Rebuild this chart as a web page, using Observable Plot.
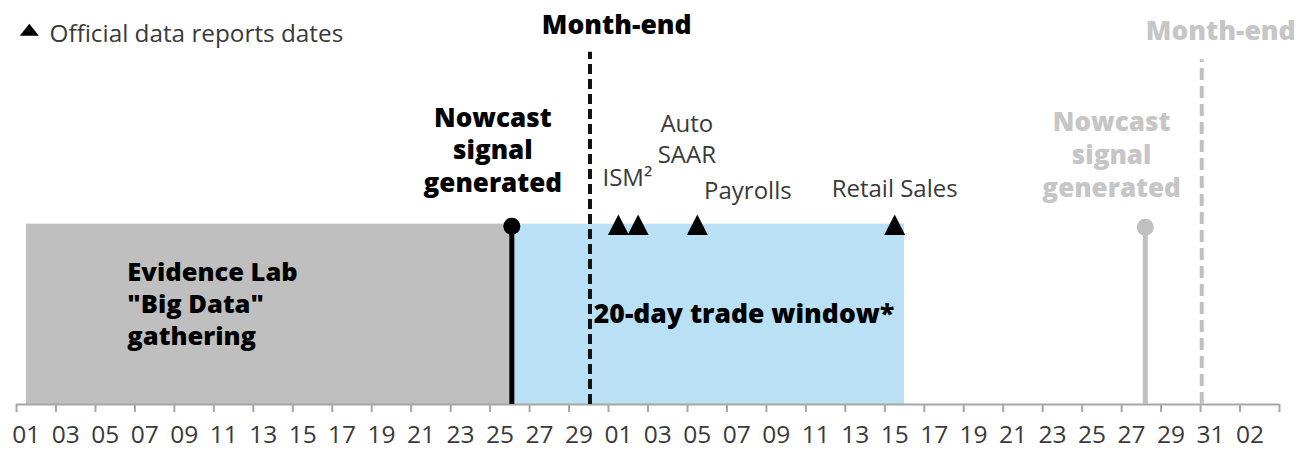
<!DOCTYPE html>
<html>
<head>
<meta charset="utf-8">
<script src="https://cdn.jsdelivr.net/npm/d3@7"></script>
<script src="https://cdn.jsdelivr.net/npm/@observablehq/plot@0.6"></script>
<style>
  html, body { margin: 0; padding: 0; background: #fff; }
</style>
</head>
<body>
<div id="chart"></div>
<script>
// ---- data ----
const tickLabels = ["01","03","05","07","09","11","13","15","17","19","21","23","25","27","29",
                    "01","03","05","07","09","11","13","15","17","19","21","23","25","27","29","31","02"];
const labelDays = tickLabels.map((_, i) => 1 + 2 * i);          // day index of each label
const tickBounds = [...labelDays.map(d => d - 0.5), 64.5];       // tick marks between days

const phaseLabels = ['Evidence Lab\n"Big Data"\ngathering', "20-day trade window*"];
const phaseStart = [1, 25.6];
const phaseEnd = [25.6, 45.5];

const reportNames = ["ISM²", "Auto\nSAAR", "Payrolls", "Retail Sales"];
const reportDays = [31, 32, 35, 45];

const monthEndDays = [29.56, 60.56];
const nowcastDays = [25.6, 57.7];

const legendLabel = "Official data reports dates";

// ---- styles ----
const FONT = "Open Sans";
const TXT = "#3a3a3a";
const GREY = "#c0c0c0";
const GREY_TXT = "#c6c6c6";

function triangle(w, h) {
  return {
    draw(ctx) {
      ctx.moveTo(0, -h / 2);
      ctx.lineTo(w / 2, h / 2);
      ctx.lineTo(-w / 2, h / 2);
      ctx.closePath();
    }
  };
}

const phases = phaseLabels.map((label, i) => ({label, x1: phaseStart[i], x2: phaseEnd[i]}));
const reports = reportNames.map((name, i) => ({name, day: reportDays[i]}));
const reportOffsets = [{dx: 9, dy: -38.6}, {dx: 48.7, dy: -61.3}, {dx: 50.5, dy: -25.3}, {dx: 0, dy: -27}];

const marks = [
  // phase boxes
  Plot.rectY([phases[0]], {x1: "x1", x2: "x2", y1: 0, y2: 1, fill: "#bfbfbf"}),
  Plot.rectY([phases[1]], {x1: "x1", x2: "x2", y1: 0, y2: 1, fill: "#b9e0f5"}),
  // axis line and ticks
  Plot.ruleY([0], {x1: 0.5, x2: 64.5, stroke: "#a6a6a6", strokeWidth: 2}),
  Plot.axisX({ticks: tickBounds, tickSize: 8, tickFormat: () => "", stroke: "#a6a6a6", strokeWidth: 2}),
  Plot.text(labelDays, {x: d => d, frameAnchor: "bottom", dy: 38.5, lineAnchor: "bottom",
    text: (d, i) => tickLabels[i], fontSize: 24.5, fill: TXT}),
  // month-end dashed lines
  Plot.ruleX([monthEndDays[0]], {x: d => d, y1: 0, y2: 1.953, stroke: "#111", strokeWidth: 4, strokeDasharray: "10,5"}),
  Plot.ruleX([monthEndDays[1]], {x: d => d, y1: 0, y2: 1.911, stroke: GREY, strokeWidth: 4, strokeDasharray: "12,6"}),
  // nowcast lollipops
  Plot.ruleX([nowcastDays[0]], {x: d => d, y1: 0, y2: 1, stroke: "#000", strokeWidth: 5}),
  Plot.dot([nowcastDays[0]], {x: d => d, y: 1, dy: 2, r: 8.5, fill: "#000"}),
  Plot.ruleX([nowcastDays[1]], {x: d => d, y1: 0, y2: 1, stroke: GREY, strokeWidth: 5}),
  Plot.dot([nowcastDays[1]], {x: d => d, y: 1, dy: 3, r: 8.5, fill: GREY}),
  // report triangles
  Plot.dot(reports, {x: "day", y: 1, dy: 0.7, symbol: triangle(21, 20.5), fill: "#000", r: 5}),
  // report labels
  ...reports.map((r, i) => Plot.text([r], {x: "day", y: 1, text: "name", dx: reportOffsets[i].dx, dy: reportOffsets[i].dy,
    lineAnchor: "bottom", lineHeight: 1.3, fontSize: 24, fill: TXT})),
  // month-end labels
  Plot.text([monthEndDays[0]], {x: d => d, y: 1, text: () => "Month-end", dx: 26.7, dy: -190.3,
    lineAnchor: "bottom", fontSize: 26.5, fontWeight: 800, fill: "#000"}),
  Plot.text([monthEndDays[1]], {x: d => d, y: 1, text: () => "Month-end", dx: 19, dy: -184.3,
    lineAnchor: "bottom", fontSize: 26.5, fontWeight: 800, fill: GREY_TXT}),
  // nowcast labels
  Plot.text([nowcastDays[0]], {x: d => d, y: 1, text: () => "Nowcast\nsignal\ngenerated", dx: -19, dy: -32,
    lineAnchor: "bottom", lineHeight: 1.26, fontSize: 26, fontWeight: 800, fill: "#000"}),
  Plot.text([nowcastDays[1]], {x: d => d, y: 1, text: () => "Nowcast\nsignal\ngenerated", dx: -33.7, dy: -27.5,
    lineAnchor: "bottom", lineHeight: 1.26, fontSize: 26, fontWeight: 800, fill: GREY_TXT}),
  // phase labels
  Plot.text([phases[0]], {x: "x1", y: 0.5, text: "label", dx: 101, dy: 31, textAnchor: "start",
    lineAnchor: "bottom", lineHeight: 1.26, fontSize: 25.5, fontWeight: 800, fill: "#000"}),
  Plot.text([phases[1]], {x: "x1", y: 0.5, text: "label", dx: 82, dy: 8.9, textAnchor: "start",
    lineAnchor: "bottom", fontSize: 26.5, fontWeight: 800, fill: "#000"}),
  // legend
  Plot.dot([0], {frameAnchor: "top-left", dx: 12.8, dy: 29.2, symbol: triangle(19, 12), fill: "#000", r: 5}),
  Plot.text([legendLabel], {frameAnchor: "top-left", dx: 33, dy: 41.5, text: d => d, textAnchor: "start",
    lineAnchor: "bottom", fontSize: 24.3, fill: TXT})
];

const chart = Plot.plot({
  width: 1309,
  height: 449,
  marginLeft: 16,
  marginRight: 30,
  marginTop: 0,
  marginBottom: 45,
  x: {domain: [0.5, 64.5], axis: null},
  y: {domain: [0, 2.24], axis: null},
  style: {fontFamily: FONT, background: "#fff", overflow: "visible"},
  marks
});
document.getElementById("chart").appendChild(chart);
</script>
</body>
</html>
